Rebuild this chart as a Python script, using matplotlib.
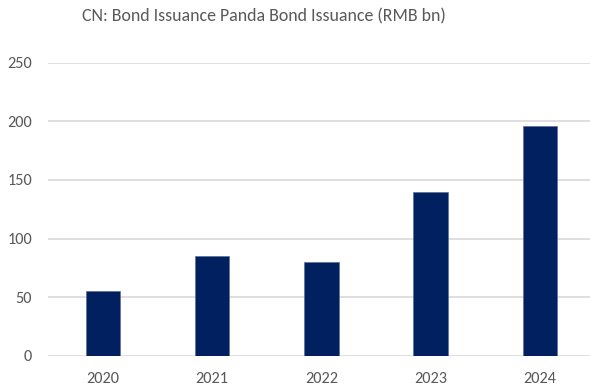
import matplotlib
matplotlib.use("Agg")
import matplotlib.pyplot as plt
from matplotlib import font_manager

# data
years = ["2020", "2021", "2022", "2023", "2024"]
issuance = [55, 85, 80, 140, 196]
yticks = [0, 50, 100, 150, 200, 250]

# Calibri look-alike if there is one
names = {f.name for f in font_manager.fontManager.ttflist}
fam = "DejaVu Sans"
for cand in ["Carlito", "Calibri", "Roboto Condensed", "Roboto"]:
    if cand in names:
        fam = cand
        break
plt.rcParams["font.family"] = [fam, "DejaVu Sans"]

grey = "#595959"
fig = plt.figure(figsize=(5.9, 3.85), dpi=100)
ax = fig.add_axes([48.2 / 590, 29.3 / 385, (594.5 - 48.2) / 590, 293 / 385])

ax.bar(range(len(years)), issuance, width=0.314, color="#002060",
       edgecolor="#5a6e96", linewidth=0.5, zorder=3)

ax.set_xlim(-0.5, len(years) - 0.5)
ax.set_ylim(0, 250)
ax.set_yticks(yticks)
ax.set_xticks(range(len(years)))
ax.set_xticklabels(years)
ax.grid(axis="y", color="#d9d9d9", linewidth=1.2, zorder=0)
for s in ax.spines.values():
    s.set_visible(False)
ax.tick_params(length=0, colors=grey, labelsize=11.7)
ax.tick_params(axis="y", pad=11.5)
ax.tick_params(axis="x", pad=12)

fig.text(0.448, 0.957, "CN: Bond Issuance Panda Bond Issuance (RMB bn)",
         ha="center", va="center", fontsize=12.9, color=grey)

fig.savefig("out.png", dpi=100)
